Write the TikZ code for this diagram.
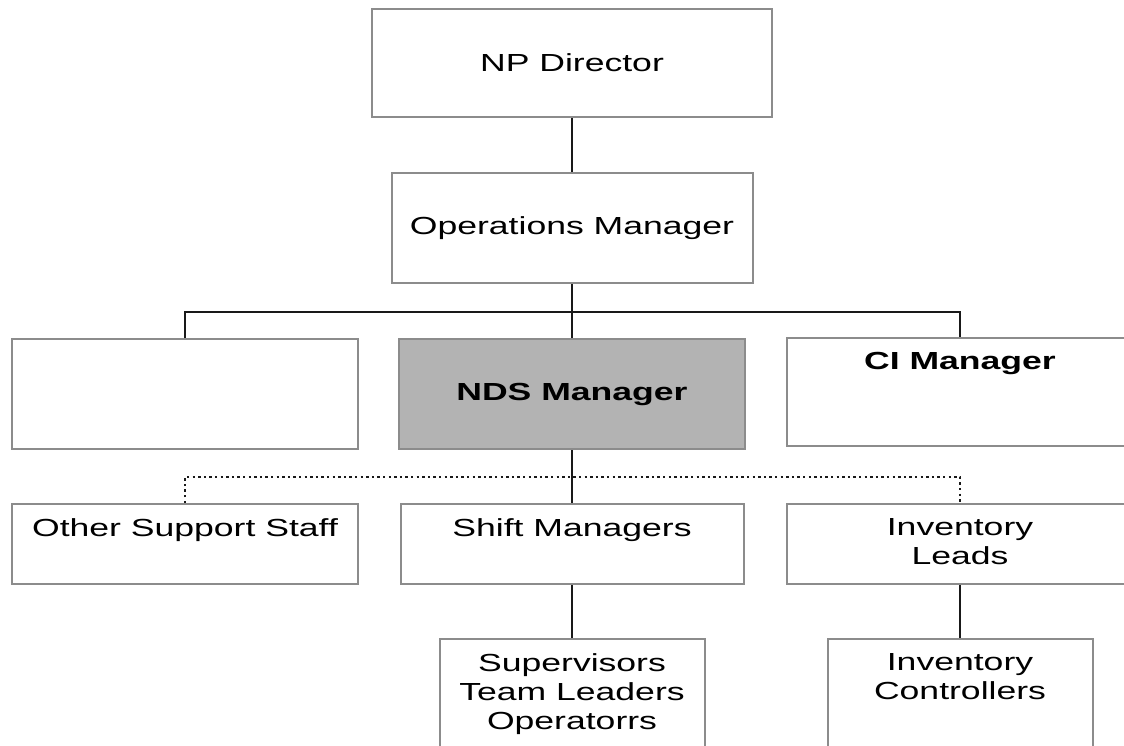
\documentclass[tikz,border=0pt]{standalone}
\usepackage{fontspec}
\setmainfont{Liberation Sans}[FakeStretch=1.44]
\usetikzlibrary{positioning}
\definecolor{boxgray}{HTML}{8C8C8C}
\definecolor{ndsfill}{HTML}{B3B3B3}
\tikzstyle{box} = [draw=boxgray, line width=1pt, inner sep=0pt, align=center, font=\fontsize{12.35}{14.5}\selectfont]
\tikzstyle{conn} = [line width=1.25pt, black!90]
\tikzstyle{dotconn} = [line width=1.25pt, black!90, dash pattern=on 1.2pt off 1.6pt]
\tikzset{toptext/.style={label={[anchor=north, yshift=-7.5pt, align=center, inner sep=0pt, font=\fontsize{12.35}{14.5}\selectfont]north:#1}}}

\begin{document}
\begin{tikzpicture}[x=0.5pt,y=-0.5pt]
			\useasboundingbox (0,0) rectangle (1124,745);
			\clip (0,0) rectangle (1124,745);
			% top of the chart
			\node[box, minimum width=200pt, minimum height=54pt] (np) at (572,63) {NP Director};
			\node[box, minimum width=180.5pt, minimum height=55pt] (ops) at (572,228) {Operations Manager};
			% managers
			\node[box, minimum width=173pt, minimum height=55pt] (blank) at (185,394) {};
			\node[box, fill=ndsfill, minimum width=173pt, minimum height=55pt] (nds) at (572,394) {\bfseries NDS Manager};
			\node[box, minimum width=173pt, minimum height=54pt, toptext={\bfseries CI Manager}] (ci) at (960,392) {};
			% staff
			\node[box, minimum width=173pt, minimum height=40pt, toptext={Other Support Staff}] (oss) at (185,544) {};
			\node[box, minimum width=171.5pt, minimum height=40pt, toptext={Shift Managers}] (shift) at (572,544) {};
			\node[box, minimum width=173pt, minimum height=40pt, toptext={Inventory\\Leads}] (leads) at (960,544) {};
			% bottom row
			\node[box, minimum width=132.5pt, minimum height=65pt, toptext={Supervisors\\Team Leaders\\Operatorrs}] (sup) at (572,704) {};
			\node[box, minimum width=132.5pt, minimum height=65pt, toptext={Inventory\\Controllers}] (ctrl) at (960,704) {};
			\coordinate (bus) at (572,312);
			\coordinate (dbus) at (572,477);
			\draw[conn] (np.south) -- (ops.north);
			\draw[conn] (ops.south) -- (nds.north);
			\draw[conn] (blank.north) |- (bus) -| (ci.north);
			\draw[dotconn] (oss.north) |- (dbus) -| (leads.north);
			\draw[conn] (nds.south) -- (shift.north);
			\draw[conn] (shift.south) -- (sup.north);
			\draw[conn] (leads.south) -- (ctrl.north);
		\end{tikzpicture}
\end{document}
